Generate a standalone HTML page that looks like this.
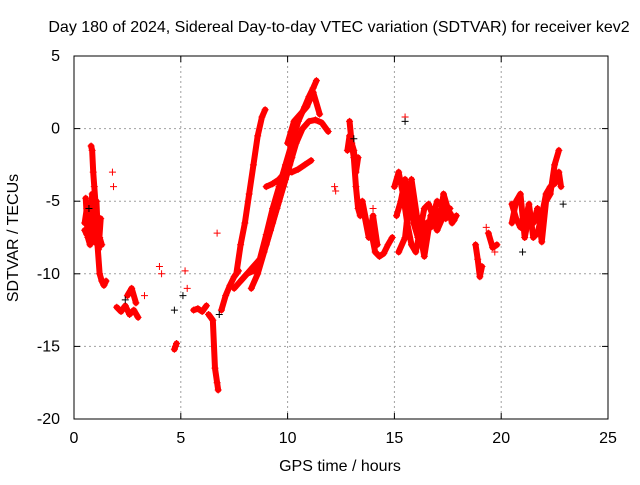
<!DOCTYPE html>
<html><head><meta charset="utf-8"><style>
body{margin:0;background:#fff}
svg text{font-family:"Liberation Sans",sans-serif;font-size:16px;fill:#000}
</style></head><body>
<svg id="chart" width="640" height="480">
<rect x="0" y="0" width="640" height="480" fill="#fff"/>
<text x="339" y="32" text-anchor="middle">Day 180 of 2024, Sidereal Day-to-day VTEC variation (SDTVAR) for receiver kev2</text>
<text x="340" y="471" text-anchor="middle">GPS time / hours</text>
<text transform="translate(18,238) rotate(-90)" text-anchor="middle">SDTVAR / TECUs</text>
<g id="grid"></g><g id="marks"></g><g id="axes"></g>
</svg>
<script>
const xTicks=[0,5,10,15,20,25];
const yTicks=[5,0,-5,-10,-15,-20];
const traceHours=[
[0.5,0.6,0.7,0.8,0.9,1.0,1.1,1.2,1.3],
[0.8,0.85,0.9,0.95,1.0,1.05,1.1,1.2,1.3,1.4,1.5],
[0.55,0.65,0.75,0.85,0.95,1.05,1.15,1.25],
[0.5,0.6,0.7,0.8,0.9,1.0,1.1],
[2.0,2.2,2.4,2.6,2.8,3.0],
[2.5,2.7,2.9],
[4.7,4.75,4.8],
[5.6,5.8,6.0,6.2],
[6.3,6.5,6.6,6.7,6.75],
[6.9,7.1,7.3,7.5,7.7],
[7.6,7.8,8.0,8.2,8.4,8.6,8.8,8.95],
[7.5,7.8,8.1,8.4,8.7,9.0,9.3,9.6,9.9,10.2,10.5,10.8,11.0,11.2,11.35],
[8.3,8.6,8.9,9.2,9.5,9.8,10.1,10.4,10.7,11.0,11.3,11.6,11.9],
[7.8,8.1,8.4,8.7,9.0,9.3,9.6,9.9,10.2],
[9.0,9.3,9.6,9.9,10.2,10.5,10.8,11.1],
[10.0,10.3,10.6,10.9,11.2,11.5],
[12.9,13.0,13.1,13.2,13.3,13.4],
[12.8,12.9,13.0,13.1,13.2,13.3],
[13.5,13.7,13.9,14.1,14.3,14.5,14.7,14.9],
[13.6,13.8,14.0,14.2],
[15.0,15.2,15.4,15.6,15.8,16.0,16.2,16.4,16.6,16.8,17.0,17.2,17.4,17.6,17.8],
[15.1,15.3,15.5,15.7,15.9,16.1,16.3,16.5,16.7,16.9,17.1,17.3,17.5,17.7,17.9],
[15.2,15.5,15.8,16.1,16.4,16.7,17.0,17.3,17.6],
[18.8,18.9,19.0,19.1],
[19.4,19.6,19.8],
[20.5,20.7,20.9,21.1,21.3,21.5,21.7,21.9,22.1,22.3,22.5,22.7,22.8],
[20.5,20.7,20.9,21.1,21.3,21.5,21.7,21.9,22.1,22.3,22.5,22.7]
];
const traceValues=[
[-6.5,-5.5,-6.5,-5.5,-6.5,-6,-7,-7.5,-8],
[-1.2,-1.5,-3,-4,-5,-6.5,-8,-10,-10.5,-10.8,-10.5],
[-4.8,-7.5,-8,-4.5,-7.8,-5,-8.3,-6.2],
[-7,-7.3,-6,-7,-5.8,-6.5,-7.5],
[-12.3,-12.6,-12.2,-12.8,-12.5,-13],
[-11.5,-11,-12],
[-15.2,-15,-14.8],
[-12.5,-12.4,-12.6,-12.2],
[-12.8,-13.2,-16.5,-17.5,-18],
[-12.5,-11.5,-10.8,-10.2,-9.8],
[-10,-8,-6.5,-4.5,-2.5,-0.5,0.8,1.3],
[-11,-10.5,-10,-9.5,-9,-7.3,-5.5,-4,-2.5,-1,0.5,1.5,2.2,2.8,3.3],
[-11,-10,-8.5,-7,-5.5,-4,-2.5,-1,0,0.5,0.6,0.4,-0.2],
[-10.5,-10,-9.8,-9.2,-8,-6.5,-5,-3.5,-2],
[-4,-3.8,-3.5,-3,-3,-2.8,-2.5,-2.2],
[-1,0.5,1,1.5,2.5,1],
[0.5,-1,-2,-4,-5.5,-6],
[-1.5,-0.5,-1,-1.5,-3,-2],
[-5,-6.5,-7,-8.5,-8.8,-8.6,-8,-7.5],
[-6,-7.5,-6,-8],
[-4,-3,-4.5,-6.5,-8,-8.5,-7,-5.5,-5.2,-6,-5,-5.3,-6.2,-5.8,-6.3],
[-6,-5,-3.5,-5,-6.5,-7.5,-8,-6.5,-6.8,-5.5,-6.5,-4.5,-5.5,-6.5,-6],
[-8.5,-7.5,-3.5,-6.5,-8.8,-6,-7,-6,-5.5],
[-8,-9,-10.2,-9.5],
[-7.2,-8.2,-8],
[-5.2,-6.2,-6.8,-6.5,-5.2,-7.5,-7.2,-6,-4.5,-4,-3.8,-3,-4],
[-6.5,-5,-4.5,-7.5,-6,-6.5,-5.5,-7.8,-5,-4.5,-2.5,-1.5]
];
const isolatedHours=[1.8,1.85,3.3,4.0,4.1,5.2,5.3,6.7,12.2,12.25,14.0,15.5,19.3,19.7,16.2];
const isolatedValues=[-3,-4,-11.5,-9.5,-10,-9.8,-11,-7.2,-4,-4.3,-5.5,0.8,-6.8,-8.5,-6.2];
const blackHours=[0.7,2.4,4.7,5.1,6.8,15.5,21.0,22.9,13.1];
const blackValues=[-5.5,-11.8,-12.5,-11.5,-12.8,0.5,-8.5,-5.2,-0.7];

const X0=74,X1=608,Y0=419,Y1=56;
const xs=h=>X0+(h-0)/(25-0)*(X1-X0);
const ys=v=>Y0-(v+20)/25*(Y0-Y1);
const NS='http://www.w3.org/2000/svg';
const grid=document.getElementById('grid'),marks=document.getElementById('marks'),axes=document.getElementById('axes');
function mk(tag,attrs,parent){const e=document.createElementNS(NS,tag);for(const k in attrs)e.setAttribute(k,attrs[k]);parent.appendChild(e);return e;}
xTicks.forEach(t=>{
  if(t>0&&t<25){const g=mk('line',{x1:xs(t),x2:xs(t),y1:Y1,y2:Y0,stroke:'#a0a0a0','stroke-dasharray':'2,3'},grid);
  
  }
  const tx=mk('text',{x:xs(t),y:Y0+24,'text-anchor':'middle'},axes);tx.textContent=t;
  
  
  mk('line',{x1:xs(t),x2:xs(t),y1:Y0,y2:Y0-6,stroke:'#000'},axes);
  mk('line',{x1:xs(t),x2:xs(t),y1:Y1,y2:Y1+6,stroke:'#000'},axes);
});
yTicks.forEach(t=>{
  if(t>-20&&t<5){const g=mk('line',{x1:X0,x2:X1,y1:ys(t),y2:ys(t),stroke:'#a0a0a0','stroke-dasharray':'2,3'},grid);
  
  }
  const tx=mk('text',{x:X0-14,y:ys(t)+5,'text-anchor':'end'},axes);tx.textContent=t;
  
  
  mk('line',{x1:X0,x2:X0+6,y1:ys(t),y2:ys(t),stroke:'#000'},axes);
  mk('line',{x1:X1,x2:X1-6,y1:ys(t),y2:ys(t),stroke:'#000'},axes);
});
const frame=mk('rect',{x:X0,y:Y1,width:X1-X0,height:Y0-Y1,fill:'none',stroke:'#000'},axes);


function plus(h,v,col){
  const x=xs(h),y=ys(v);
  const p=mk('path',{d:`M${x-3.5},${y}H${x+3.5}M${x},${y-3.5}V${y+3.5}`,stroke:col,'stroke-width':1},marks);
  
  
}
traceHours.forEach((hs,i)=>{
  const vs=traceValues[i];
  const pl=mk('polyline',{points:hs.map((h,j)=>xs(h)+','+ys(vs[j])).join(' '),fill:'none',stroke:'#f00','stroke-width':6,'stroke-linejoin':'round','stroke-linecap':'round'},marks);
  
  
  hs.forEach((h,j)=>plus(h,vs[j],'#f00'));
});
isolatedHours.forEach((h,i)=>plus(h,isolatedValues[i],'#f00'));
blackHours.forEach((h,i)=>plus(h,blackValues[i],'#000'));
</script>
</body></html>
